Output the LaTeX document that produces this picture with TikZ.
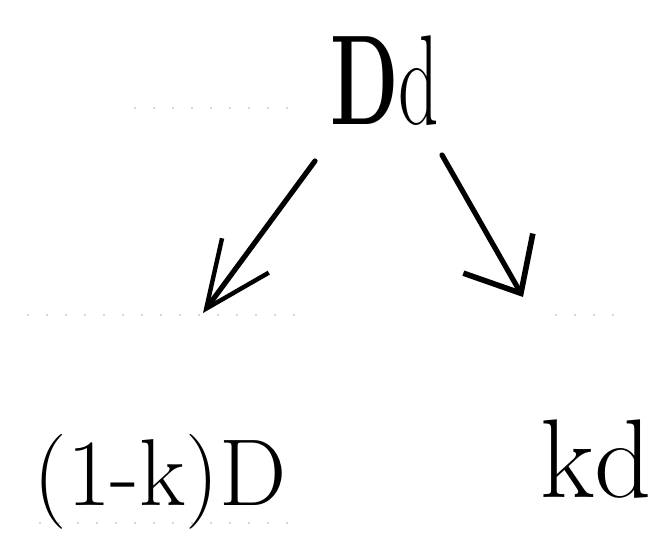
\documentclass[tikz,border=0pt]{standalone}
\usepackage{fontspec}
\usepackage{graphicx}
\usepackage{tikz}
\usetikzlibrary{arrows.meta}
\tikzset{
	rule/.style={draw=black!70,line width=1.4pt,line cap=round,dash pattern=on 0pt off 19pt},
	hand/.style={inner sep=0pt,anchor=base},
	splitarrow/.style={draw=black,line width=5.2pt,line cap=round,line join=round}
}

\begin{document}
\begin{tikzpicture}[x=1pt,y=-1pt,
			big/.style={hand,font=\fontsize{128}{128}\selectfont},
			part/.style={hand,font=\fontsize{95}{95}\selectfont},
			lhead/.style={-{Straight Barb[length=66pt,width=58pt,line width=4.4pt]}},
			rhead/.style={-{Straight Barb[length=46pt,width=80pt,line width=5.6pt]}}]
			\useasboundingbox (0,0) rectangle (664,550);
			\foreach \a/\b/\y in {135/302/108,28/310/315,556/626/315,40/290/523}
			\draw[rule] (\a,\y) -- (\b,\y);
			\node[big] (total) at (385,124) {\scalebox{.62}[1]{\textbf{D}d}};
			\node[part] (left) at (160,505) {(1-k)D};
			\node[part,font=\fontsize{112}{112}\selectfont] (right) at (596,497) {kd};
			\coordinate (la) at (315,161);
			\coordinate (lb) at (203,313);
			\coordinate (ra) at (442,155);
			\coordinate (rb) at (523,297);
			\draw[splitarrow,lhead] (la) -- (lb);
			\draw[splitarrow,rhead] (ra) -- (rb);
		\end{tikzpicture}
\end{document}
